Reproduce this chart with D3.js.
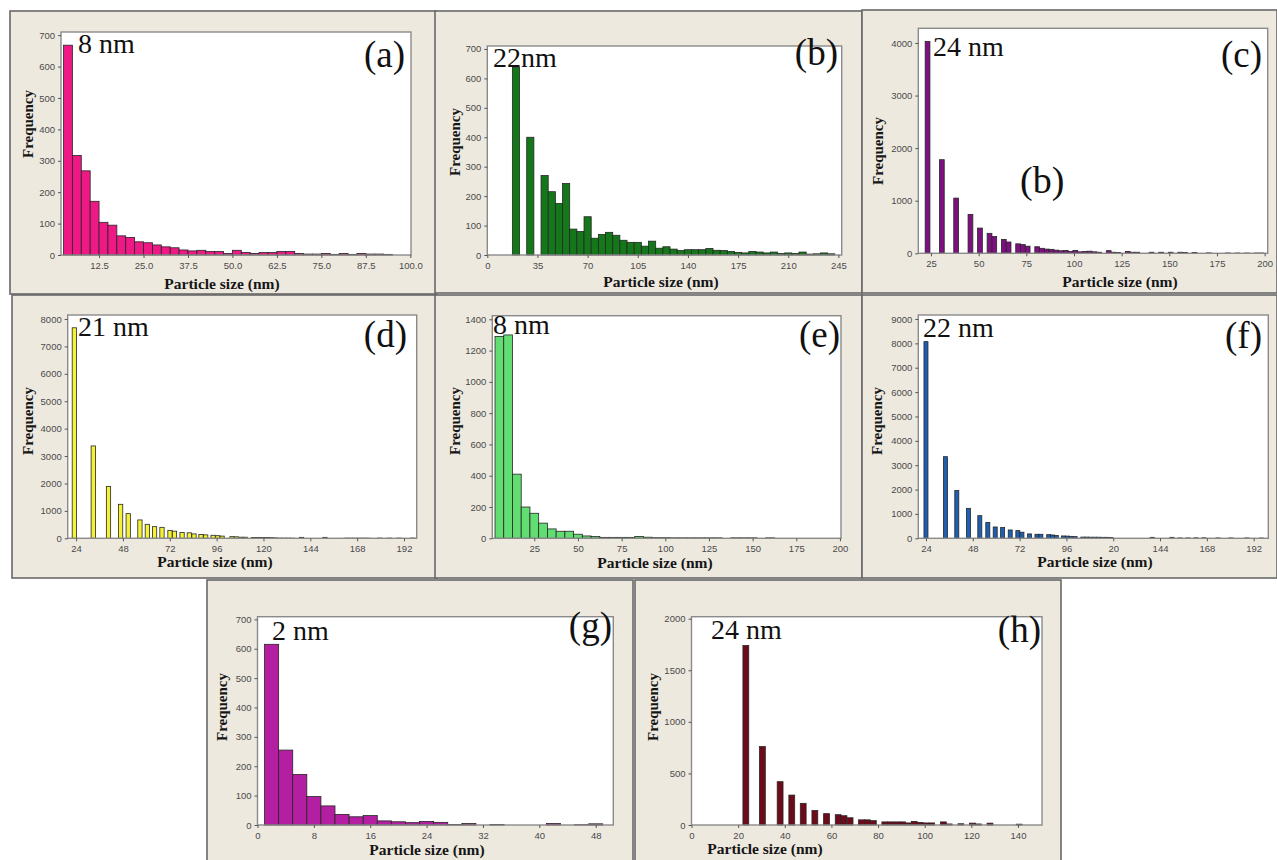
<!DOCTYPE html>
<html>
<head>
<meta charset="utf-8">
<script src="https://cdn.jsdelivr.net/npm/d3@7"></script>
<style>
  html, body { margin: 0; padding: 0; background: #ffffff; }
  svg { display: block; }
</style>
</head>
<body>
<svg id="fig" width="1277" height="860"></svg>
<script>
// ---------- particle size histograms: bin centres (nm) and counts ----------
const aSizes = [3.75, 6.25, 8.75, 11.25, 13.75, 16.25, 18.75, 21.25, 23.75, 26.25, 28.75, 31.25, 33.75, 36.25, 38.75, 41.25, 43.75, 46.25, 48.75, 51.25, 53.75, 56.25, 58.75, 61.25, 63.75, 66.25, 68.75, 71.25, 73.75, 76.25, 78.75, 81.25, 83.75, 86.25, 88.75, 91.25, 93.75];
const aCounts = [668, 317, 268, 171, 104, 95, 61, 56, 42, 39, 32, 26, 23, 16, 13, 15, 11, 11, 5, 15, 8, 5, 8, 8, 11, 11, 5, 3, 3, 5, 2, 5, 2, 5, 3, 3, 2];

const bSizes = [20, 30, 40, 45, 50, 55, 60, 65, 70, 75, 80, 85, 90, 95, 100, 105, 110, 115, 120, 125, 130, 135, 140, 145, 150, 155, 160, 165, 170, 175, 180, 185, 190, 195, 200, 205, 210, 215, 220, 225, 230, 235, 240];
const bCounts = [638, 400, 270, 215, 175, 243, 88, 80, 130, 57, 70, 77, 67, 50, 43, 43, 30, 47, 23, 28, 20, 15, 18, 18, 18, 22, 16, 15, 12, 9, 7, 12, 10, 7, 10, 5, 7, 5, 10, 3, 4, 7, 4];

const cSizes = [23.2, 30.7, 38.2, 45.7, 50.7, 55.7, 58.2, 63.2, 65.7, 70.7, 73.2, 75.7, 80.7, 83.2, 85.7, 88.2, 90.7, 93.2, 95.7, 98.2, 100.7, 103.2, 105.7, 108.2, 110.7, 113.2, 118.2, 120.7, 123.2, 128.2, 130.7, 133.2, 140.7, 145.7, 150.7, 155.7, 158.2, 163.2, 170.7, 180.7, 185.7, 190.7, 195.7, 198.2];
const cCounts = [4030, 1780, 1050, 740, 480, 380, 320, 265, 215, 180, 165, 135, 125, 95, 80, 75, 60, 48, 55, 35, 55, 28, 35, 40, 28, 20, 50, 20, 14, 35, 20, 20, 20, 20, 20, 20, 14, 14, 8, 6, 5, 5, 5, 5];

const dSizes = [23.1, 32.8, 40.6, 46.8, 50.7, 56.7, 60.5, 64.2, 68.0, 72.1, 74.4, 78.3, 82.0, 84.4, 88.0, 90.4, 94.2, 96.6, 98.8, 103.9, 106.1, 108.4, 110.6, 114.9, 117.1, 119.5, 121.7, 123.9, 126.1, 128.3, 130.5, 132.7, 134.9, 139.5, 151.5, 162.4, 164.6, 166.8, 169.0, 171.2, 173.4, 179.5, 184.5, 189.5, 196.5];
const dCounts = [7680, 3370, 1890, 1240, 900, 670, 510, 425, 400, 290, 260, 210, 200, 160, 140, 125, 110, 95, 80, 60, 55, 40, 40, 30, 30, 28, 28, 25, 15, 8, 6, 6, 5, 35, 35, 5, 5, 5, 5, 5, 5, 8, 8, 8, 10];

const eSizes = [5, 10, 15, 20, 25, 30, 35, 40, 45, 50, 55, 60, 65, 70, 75, 80, 85, 90, 95, 100, 105, 110, 115, 120, 125, 130, 140, 145, 150, 160];
const eCounts = [1290, 1300, 410, 200, 160, 97, 60, 45, 45, 26, 15, 11, 6, 6, 6, 6, 12, 7, 4, 4, 3, 3, 3, 3, 3, 3, 3, 3, 3, 3];

const fSizes = [24, 34, 39.8, 45.8, 51.6, 55.7, 59.5, 63.3, 67.2, 71.1, 73.2, 77.1, 80.9, 82.9, 86.9, 88.9, 90.8, 94.5, 96.6, 98.4, 100.5, 104.4, 106.5, 108.5, 110.6, 112.6, 114.7, 116.7, 118.8, 140, 150.1, 154.2, 158.3, 162.4, 166.5, 173.7, 180.4, 188.6, 196];
const fCounts = [8070, 3350, 1960, 1230, 930, 650, 465, 440, 342, 315, 250, 180, 165, 165, 150, 137, 115, 96, 90, 80, 68, 50, 50, 45, 45, 45, 40, 40, 35, 40, 40, 15, 15, 20, 20, 15, 15, 15, 12];

const gSizes = [2, 4, 6, 8, 10, 12, 14, 16, 18, 20, 22, 24, 26, 28, 30, 34, 42, 46, 48];
const gCounts = [615, 255, 172, 97, 65, 36, 28, 32, 14, 11, 8, 12, 9, 2, 5, 2, 5, 1, 4];

const hSizes = [23.3, 30.4, 38, 43, 47.9, 52.9, 57.9, 62.9, 65.4, 68, 72.9, 75.4, 78, 82.9, 85.4, 88, 90.5, 93, 95.5, 98, 100.5, 103, 108, 110.5, 115.5, 120.5, 123, 128, 140.5];
const hCounts = [1740, 760, 420, 290, 210, 140, 110, 100, 90, 70, 50, 50, 42, 30, 30, 30, 30, 20, 35, 25, 20, 20, 30, 10, 12, 18, 10, 18, 8];

// ---------- tick values and labels ----------
const aXTicks = [12.5, 25, 37.5, 50, 62.5, 75, 87.5, 100];
const aXLabels = ["12.5", "25.0", "37.5", "50.0", "62.5", "75.0", "87.5", "100.0"];
const bXTicks = [0, 35, 70, 105, 140, 175, 210, 245];
const cXTicks = [25, 50, 75, 100, 125, 150, 175, 200];
const dXTicks = [24, 48, 72, 96, 120, 144, 168, 192];
const eXTicks = [25, 50, 75, 100, 125, 150, 175, 200];
const fXTicks = [24, 48, 72, 96, 120, 144, 168, 192];
const fXLabels = ["24", "48", "72", "96", "20", "144", "168", "192"];
const gXTicks = [0, 8, 16, 24, 32, 40, 48];
const hXTicks = [0, 20, 40, 60, 80, 100, 120, 140];

const yTicks700 = [0, 100, 200, 300, 400, 500, 600, 700];
const cYTicks = [0, 1000, 2000, 3000, 4000];
const dYTicks = [0, 1000, 2000, 3000, 4000, 5000, 6000, 7000, 8000];
const eYTicks = [0, 200, 400, 600, 800, 1000, 1200, 1400];
const fYTicks = [0, 1000, 2000, 3000, 4000, 5000, 6000, 7000, 8000, 9000];
const hYTicks = [0, 500, 1000, 1500, 2000];

const sizeNotes = ["8 nm", "22nm", "24 nm", "21 nm", "8 nm", "22 nm", "2 nm", "24 nm"];
const panelTags = ["(a)", "(b)", "(c)", "(d)", "(e)", "(f)", "(g)", "(h)"];

// ---------- layout of the eight panels ----------
const panels = [
  { sizes: aSizes, counts: aCounts, bin: 2.5, fill: "#ee1985",
    frame: [10, 11, 436, 294], plot: [61, 32, 411, 255], xDom: [1.8, 100.2], yMax: 710,
    xTicks: aXTicks, xLabels: aXLabels, yTicks: yTicks700,
    noteAt: [78, 53], tagAt: [405, 67], freqAt: [28, 124], xTitleAt: [222, 289] },
  { sizes: bSizes, counts: bCounts, bin: 5, fill: "#14781a",
    frame: [435, 11, 862, 293], plot: [487.3, 46, 841.7, 255], xDom: [0, 247.3], yMax: 710,
    xTicks: bXTicks, yTicks: yTicks700,
    noteAt: [493, 66.7], tagAt: [838, 65], freqAt: [455, 142], xTitleAt: [661, 287] },
  { sizes: cSizes, counts: cCounts, bin: 2.5, fill: "#7e0f80",
    frame: [862, 10, 1277, 293], plot: [918.3, 28.3, 1267.7, 253.3], xDom: [18.35, 201.6], yMax: 4279,
    xTicks: cXTicks, yTicks: cYTicks,
    noteAt: [933, 56], tagAt: [1262, 66.7], freqAt: [878, 151], xTitleAt: [1120, 287],
    extra: { text: "(b)", at: [1020, 193.3] } },
  { sizes: dSizes, counts: dCounts, bin: 2.2, fill: "#f4f236",
    frame: [12, 295, 437, 578], plot: [67.7, 315, 416.7, 538.3], xDom: [19.7, 198.5], yMax: 8146,
    xTicks: dXTicks, yTicks: dYTicks,
    noteAt: [78, 335.7], tagAt: [407, 346.7], freqAt: [28, 421], xTitleAt: [215, 567] },
  { sizes: eSizes, counts: eCounts, bin: 5, fill: "#62dd72",
    frame: [435, 295, 862, 578], plot: [492.3, 315.7, 841, 538.3], xDom: [0.95, 200.6], yMax: 1423,
    xTicks: eXTicks, yTicks: eYTicks,
    noteAt: [493, 334], tagAt: [840, 347.3], freqAt: [455, 421], xTitleAt: [655, 568] },
  { sizes: fSizes, counts: fCounts, bin: 2.05, fill: "#1f5fb3",
    frame: [862, 295, 1277, 578], plot: [918.3, 315, 1268.3, 538.3], xDom: [20.07, 199.5], yMax: 9164,
    xTicks: fXTicks, xLabels: fXLabels, yTicks: fYTicks,
    noteAt: [923, 336.7], tagAt: [1262, 348.3], freqAt: [877, 421], xTitleAt: [1095, 567] },
  { sizes: gSizes, counts: gCounts, bin: 2, fill: "#b41fa2",
    frame: [207, 580, 633, 862], plot: [257.5, 616.7, 613.3, 825], xDom: [0, 50.5], yMax: 709,
    xTicks: gXTicks, yTicks: yTicks700,
    noteAt: [272, 640], tagAt: [612, 638], freqAt: [222, 707], xTitleAt: [427, 855] },
  { sizes: hSizes, counts: hCounts, bin: 2.5, fill: "#6e0b1b",
    frame: [635, 580, 1061, 862], plot: [691.5, 616.7, 1042, 825], xDom: [0, 150.3], yMax: 2019,
    xTicks: hXTicks, yTicks: hYTicks,
    noteAt: [711, 639], tagAt: [1041, 641.7], freqAt: [653, 707], xTitleAt: [765, 854] }
];

const svg = d3.select("#fig");
const SERIF = "'Liberation Serif', 'Times New Roman', serif";
const SANS = "'Liberation Sans', Arial, sans-serif";

// panel backgrounds first, so neighbouring borders overlap cleanly
svg.selectAll("rect.frame")
  .data(panels)
  .join("rect")
  .attr("class", "frame")
  .attr("x", d => d.frame[0])
  .attr("y", d => d.frame[1])
  .attr("width", d => d.frame[2] - d.frame[0])
  .attr("height", d => d.frame[3] - d.frame[1])
  .attr("fill", "#eee9df")
  .attr("stroke", "#686868")
  .attr("stroke-width", 1.6);

panels.forEach((p, i) => {
  const [px0, py0, px1, py1] = p.plot;
  const x = d3.scaleLinear().domain(p.xDom).range([px0, px1]);
  const y = d3.scaleLinear().domain([0, p.yMax]).range([py1, py0]);
  const g = svg.append("g");

  // white plotting area
  g.append("rect")
    .attr("x", px0).attr("y", py0)
    .attr("width", px1 - px0).attr("height", py1 - py0)
    .attr("fill", "#ffffff");

  // histogram bars
  const rows = p.sizes.map((s, k) => ({ size: s, count: p.counts[k] }));
  g.selectAll("rect.bar")
    .data(rows)
    .join("rect")
    .attr("class", "bar")
    .attr("x", d => x(d.size - p.bin / 2))
    .attr("width", d => x(d.size + p.bin / 2) - x(d.size - p.bin / 2))
    .attr("y", d => y(d.count))
    .attr("height", d => y(0) - y(d.count))
    .attr("fill", p.fill)
    .attr("stroke", "#262626")
    .attr("stroke-width", 0.8);

  // plot border
  g.append("rect")
    .attr("x", px0).attr("y", py0)
    .attr("width", px1 - px0).attr("height", py1 - py0)
    .attr("fill", "none")
    .attr("stroke", "#8a8a8a")
    .attr("stroke-width", 1.4);

  // axes
  const xAxis = d3.axisBottom(x)
    .tickValues(p.xTicks)
    .tickSize(3)
    .tickPadding(4)
    .tickFormat((v, k) => p.xLabels ? p.xLabels[k] : String(v));
  const yAxis = d3.axisLeft(y)
    .tickValues(p.yTicks)
    .tickSize(3)
    .tickPadding(3)
    .tickFormat(v => String(v));

  const gx = g.append("g").attr("transform", `translate(0,${py1})`).call(xAxis);
  const gy = g.append("g").attr("transform", `translate(${px0},0)`).call(yAxis);
  [gx, gy].forEach(ax => {
    ax.select(".domain").remove();
    ax.selectAll(".tick line").attr("stroke", "#555");
    ax.selectAll(".tick text")
      .attr("fill", "#4a4a4a")
      .style("font-family", SANS)
      .style("font-size", "9.5px");
  });

  // axis titles
  g.append("text")
    .attr("transform", `translate(${p.freqAt[0]},${p.freqAt[1]}) rotate(-90)`)
    .attr("text-anchor", "middle")
    .attr("dominant-baseline", "central")
    .style("font-family", SERIF)
    .style("font-weight", "bold")
    .style("font-size", "15px")
    .attr("fill", "#151515")
    .text("Frequency");

  g.append("text")
    .attr("x", p.xTitleAt[0]).attr("y", p.xTitleAt[1])
    .attr("text-anchor", "middle")
    .style("font-family", SERIF)
    .style("font-weight", "bold")
    .style("font-size", "15.5px")
    .attr("fill", "#151515")
    .text("Particle size (nm)");

  // mean size note and panel tag
  g.append("text")
    .attr("x", p.noteAt[0]).attr("y", p.noteAt[1])
    .style("font-family", SERIF)
    .style("font-size", "28px")
    .attr("fill", "#111")
    .text(sizeNotes[i]);

  g.append("text")
    .attr("x", p.tagAt[0]).attr("y", p.tagAt[1])
    .attr("text-anchor", "end")
    .style("font-family", SERIF)
    .style("font-size", "37px")
    .attr("fill", "#111")
    .text(panelTags[i]);

  if (p.extra) {
    g.append("text")
      .attr("x", p.extra.at[0]).attr("y", p.extra.at[1])
      .style("font-family", SERIF)
      .style("font-size", "38px")
      .attr("fill", "#111")
      .text(p.extra.text);
  }
});
</script>
</body>
</html>
